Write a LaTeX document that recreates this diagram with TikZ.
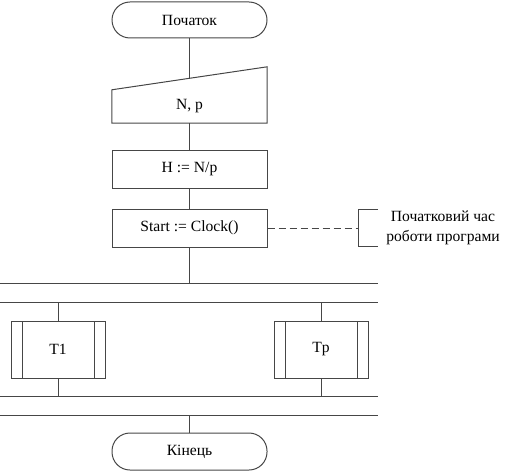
\documentclass[tikz,border=0pt]{standalone}
\usepackage{fontspec}
\setmainfont{Liberation Serif}
\usetikzlibrary{calc}
\definecolor{linegray}{RGB}{70,70,70}
\tikzset{
    terminal/.style={draw=linegray, line width=1pt, rounded corners=18pt,
        minimum width=155pt, minimum height=36pt, inner sep=0pt},
    process/.style={draw=linegray, line width=1pt,
        minimum width=155pt, minimum height=38pt, inner sep=0pt},
    subproc/.style={draw=linegray, line width=1pt,
        minimum width=94pt, minimum height=57pt, inner sep=0pt,
        path picture={
            \draw[linegray, line width=1pt]
                ([xshift=11pt]path picture bounding box.north west) -- ([xshift=11pt]path picture bounding box.south west)
                ([xshift=-11pt]path picture bounding box.north east) -- ([xshift=-11pt]path picture bounding box.south east);
        }},
    flow/.style={draw=linegray, line width=1pt},
}
\begin{document}
\begin{tikzpicture}[x=1pt, y=-1pt, font=\fontsize{15.6}{19}\selectfont]
        \useasboundingbox (0,0) rectangle (510,473);
        %draw start terminal
        \node[terminal] (begin) at (189.5,20) {Початок};
        %draw manual input
        \node[minimum width=155pt, minimum height=33pt, inner sep=0pt] (inp) at (189.5,106.5) {N, p};
        \draw[flow] (inp.north west) -- ([yshift=23pt]inp.north east) -- (inp.south east) -- (inp.south west) -- cycle;
        \coordinate (inptop) at (189.5,78.5);
        %draw process boxes
        \node[process] (hstep) at (189.5,169.5) {H := N/p};
        \node[process] (clk) at (189.5,228) {Start := Clock()};
        %draw comment
        \node[align=center, inner sep=0pt, font=\fontsize{15.6}{20}\selectfont] (note) at (443,228) {Початковий час\\роботи програми};
        \coordinate (brk) at (358,228);
        \draw[flow] (378,209) -- (358,209) -- (358,246) -- (378,246);
        \draw[flow, dash pattern=on 7pt off 4pt] (clk.east) -- (brk);
        %draw parallel bars
        \coordinate (bar1) at (189.5,283);
        \coordinate (bar2) at (189.5,302);
        \coordinate (bar3) at (189.5,396);
        \coordinate (bar4) at (189.5,415);
        \foreach \y in {283,302,396,415}
            \draw[flow] (0,\y) -- (378,\y);
        %draw threads
        \node[subproc] (tone) at (58,349.5) {T1};
        \node[subproc] (tp) at (321,349.5) {Tp};
        %draw end terminal
        \node[terminal, minimum height=37pt] (finish) at (189.5,451.5) {Кінець};
        %draw connectors
        \draw[flow] (begin) -- (inptop);
        \draw[flow] (inp) -- (hstep);
        \draw[flow] (hstep) -- (clk);
        \draw[flow] (clk) -- (bar1);
        \draw[flow] (tone) -- (tone |- bar2);
        \draw[flow] (tone) -- (tone |- bar3);
        \draw[flow] (tp) -- (tp |- bar2);
        \draw[flow] (tp) -- (tp |- bar3);
        \draw[flow] (bar4) -- (finish);
    \end{tikzpicture}
\end{document}
